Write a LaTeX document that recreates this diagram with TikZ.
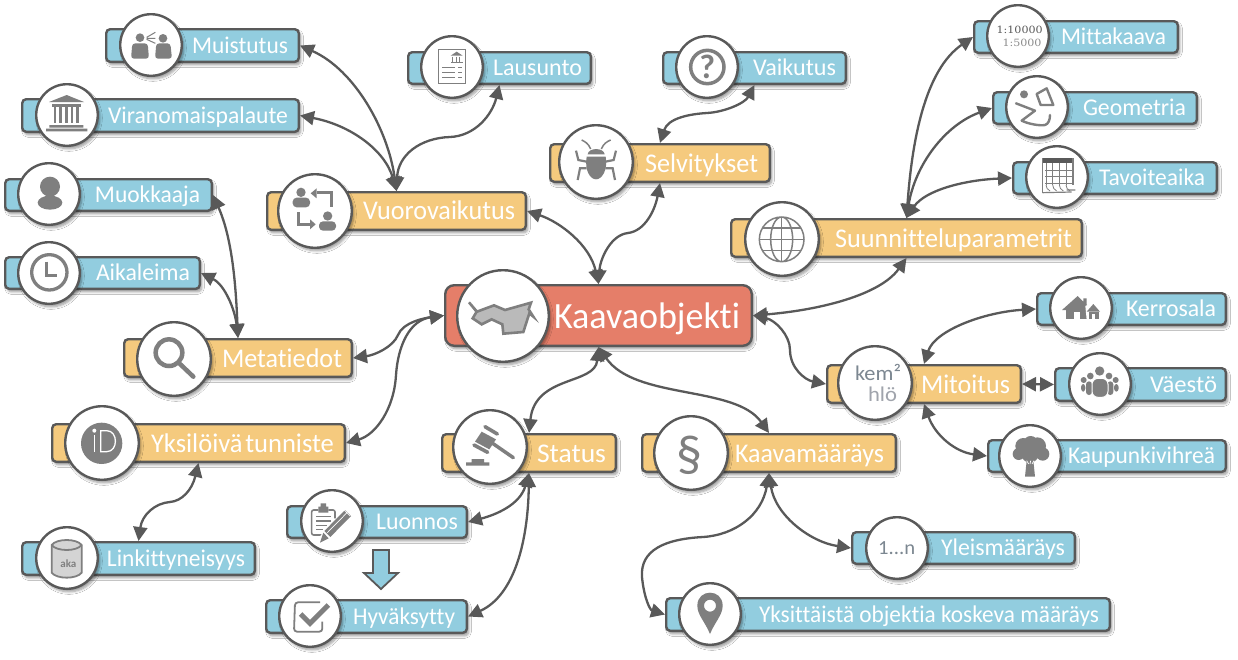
\documentclass[tikz,border=0pt]{standalone}
\usepackage{graphicx}
\usepackage{fontspec}
\setmainfont[Ligatures=NoCommon]{Carlito}
\newfontfamily\serifnum{DejaVu Serif}
\usetikzlibrary{arrows.meta,calc,shadows,shadows.blur}
\definecolor{ln}{HTML}{595959}
\definecolor{bluef}{HTML}{92CDDF}
\definecolor{orangef}{HTML}{F5CA7E}
\definecolor{redf}{HTML}{E57E69}
\definecolor{icong}{HTML}{7F7F7F}
\definecolor{kemc}{HTML}{7C8791}
\definecolor{hloc}{HTML}{A0A4AC}
\tikzset{
  softshadow/.style={blur shadow={shadow xshift=2pt,shadow yshift=-3pt,shadow blur steps=6,shadow blur radius=2.5pt,shadow opacity=40}},
  barbase/.style={draw=ln,line width=2.4pt,rounded corners=4pt,inner sep=0pt,softshadow},
  bluebar/.style={barbase,fill=bluef},
  orangebar/.style={barbase,fill=orangef},
  redbar/.style={barbase,fill=redf,rounded corners=9pt},
  circ/.style={circle,draw=ln,line width=2.4pt,fill=white,inner sep=0pt,softshadow},
  lab/.style={text=white,inner sep=0pt,outer sep=0pt},
  conn/.style={draw=ln,line width=2.3pt,{Triangle[length=14pt,width=14pt]}-{Triangle[length=14pt,width=14pt]}},
  zm/.style 2 args={shift={(#1,#2)},x=0.33333pt,y=-0.33333pt},
  ic/.style={fill=icong,draw=none},
  icl/.style={draw=icong,fill=none,line width=#1},
  ictext/.style={text=icong,inner sep=0pt,outer sep=0pt}
}
\newcommand{\mybox}[6]{\node[#1,minimum width={#5-#3-2.4},minimum height={#6-#4-2.4}] (#2) at ({(#3+#5)/2},{(#4+#6)/2}) {};}
\newcommand{\mycirc}[4]{\node[circ,minimum size={2*#4-2.4}] (#1) at (#2,#3) {};}
\newcommand{\mylab}[6]{\pgfmathsetlengthmacro{\labw}{#3-#2}\node[lab,anchor=base,font=\fontsize{#5}{#5}\selectfont] (#1) at ({(#2+#3)/2},#4) {\resizebox{\labw}{\height}{#6}};}
\begin{document}
\begin{tikzpicture}[x=1pt,y=-1pt]
\useasboundingbox (0,0) rectangle (1238,659);
\fill[white] (0,0) rectangle (1238,659);
% ---------- bars ----------
\mybox{bluebar}{muistutus}{105}{28}{300}{63}
\mybox{bluebar}{viranomainen}{21}{98}{300}{133}
\mybox{bluebar}{muokkaaja}{4}{178}{213}{212}
\mybox{bluebar}{aikaleima}{4}{256}{201}{290}
\mybox{orangebar}{vuoro}{266}{191}{527}{231}
\mybox{bluebar}{lausunto}{407}{51}{592}{85}
\mybox{bluebar}{vaikutus}{662}{51}{847}{85}
\mybox{orangebar}{selvitykset}{549}{143}{771}{183}
\mybox{redbar}{kaava}{444}{284}{753}{347}
\mybox{orangebar}{suunnittelu}{730}{218}{1083}{258}
\mybox{bluebar}{mittakaava}{973}{20}{1179}{54}
\mybox{bluebar}{geometria}{992}{91}{1198}{125}
\mybox{bluebar}{tavoiteaika}{1012}{161}{1218}{195}
\mybox{bluebar}{kerrosala}{1036}{292}{1227}{326}
\mybox{orangebar}{mitoitus}{826}{364}{1022}{404}
\mybox{bluebar}{vaesto}{1054}{367}{1227}{402}
\mybox{bluebar}{kaupunki}{987}{439}{1227}{473}
\mybox{orangebar}{kaavam}{641}{433}{897}{473}
\mybox{bluebar}{yleis}{851}{531}{1076}{565}
\mybox{bluebar}{yksittainen}{665}{597}{1111}{632}
\mybox{orangebar}{status}{441}{433}{617}{473}
\mybox{bluebar}{luonnos}{286}{505}{468}{539}
\mybox{bluebar}{hyvaksytty}{265}{599}{468}{634}
\mybox{orangebar}{metatiedot}{123}{338}{353}{378}
\mybox{orangebar}{tunniste}{51}{423}{346}{463}
\mybox{bluebar}{linkitys}{21}{541}{256}{576}
% ---------- connectors ----------
\draw[conn] (vuoro.north) .. controls (388,130) and (355,70) .. (muistutus.east);
\draw[conn] (vuoro.north) .. controls (385,150) and (350,125) .. (viranomainen.east);
\draw[conn] (vuoro.north) .. controls (398,155) and (420,138) .. (450,137) .. controls (475,136) and (492,115) .. (lausunto.south);
\draw[conn] (kaava.north) .. controls (590,245) and (560,222) .. (vuoro.east);
\draw[conn] (kaava.north) .. controls (600,260) and (610,235) .. (628,233) .. controls (645,231) and (655,210) .. (selvitykset.south);
\draw[conn] (selvitykset.north) .. controls (668,118) and (690,114) .. (707,113) .. controls (725,112) and (745,103) .. (vaikutus.south);
\draw[conn] (suunnittelu.north) .. controls (912,140) and (925,70) .. (mittakaava.west);
\draw[conn] (suunnittelu.north) .. controls (915,165) and (945,125) .. (geometria.west);
\draw[conn] (suunnittelu.north) .. controls (925,190) and (965,180) .. (tavoiteaika.west);
\draw[conn] (kaava.east) .. controls (820,310) and (880,295) .. (suunnittelu.south);
\draw[conn] (kaava.east) .. controls (775,320) and (790,335) .. (790,350) .. controls (790,368) and (805,380) .. (mitoitus.west);
\draw[conn] (mitoitus.north) .. controls (935,330) and (985,312) .. (kerrosala.west);
\draw[conn] (mitoitus.east) -- (vaesto.west);
\draw[conn] (mitoitus.south) .. controls (935,435) and (955,452) .. (kaupunki.west);
\draw[conn] (kaava.south) .. controls (635,400) and (735,385) .. (kaavam.north);
\draw[conn] (kaava.south) .. controls (595,385) and (535,375) .. (status.north);
\draw[conn] (kaava.west) .. controls (425,318) and (403,322) .. (398,335) .. controls (393,347) and (375,355) .. (metatiedot.east);
\draw[conn] (kaava.west) .. controls (410,320) and (398,345) .. (396,375) .. controls (394,410) and (375,435) .. (tunniste.east);
\draw[conn] (tunniste.south) .. controls (192,490) and (182,501) .. (170,502) .. controls (155,503) and (142,515) .. (linkitys.north);
\draw[conn] (metatiedot.north) .. controls (236,290) and (233,240) .. (muokkaaja.east);
\draw[conn] (metatiedot.north) .. controls (235,310) and (225,285) .. (aikaleima.east);
\draw[conn] (status.south) .. controls (520,505) and (495,515) .. (luonnos.east);
\draw[conn] (status.south) .. controls (528,540) and (515,595) .. (hyvaksytty.east);
\draw[conn] (kaavam.south) .. controls (775,515) and (810,542) .. (yleis.west);
\draw[conn] (kaavam.south) .. controls (762,515) and (735,535) .. (703,537) .. controls (665,539) and (640,550) .. (642,577) .. controls (644,598) and (650,610) .. (yksittainen.west);
% ---------- circles ----------
\mycirc{c-muistutus}{151}{45}{32}
\mycirc{c-viranomainen}{67}{115}{32}
\mycirc{c-muokkaaja}{49}{194}{32}
\mycirc{c-aikaleima}{49}{273}{32}
\mycirc{c-vuoro}{315}{211}{38}
\mycirc{c-lausunto}{452}{67}{32}
\mycirc{c-vaikutus}{707}{67}{32}
\mycirc{c-selvitykset}{596}{162}{38}
\mycirc{c-kaava}{503}{316}{47}
\mycirc{c-suunnittelu}{782}{239}{38}
\mycirc{c-mittakaava}{1018}{36}{32}
\mycirc{c-geometria}{1037}{107}{32}
\mycirc{c-tavoiteaika}{1057}{177}{32}
\mycirc{c-kerrosala}{1081}{308}{32}
\mycirc{c-mitoitus}{875}{383}{38}
\mycirc{c-vaesto}{1100}{384}{32}
\mycirc{c-kaupunki}{1030}{456}{32}
\mycirc{c-kaavam}{691}{453}{38}
\mycirc{c-yleis}{897}{548}{32}
\mycirc{c-yksittainen}{710}{614}{32}
\mycirc{c-status}{490}{447}{38}
\mycirc{c-luonnos}{332}{521}{32}
\mycirc{c-hyvaksytty}{310}{616}{32}
\mycirc{c-metatiedot}{174}{359}{38}
\mycirc{c-tunniste}{102}{443}{38}
\mycirc{c-linkitys}{67}{558}{32}
% ---------- labels ----------
\mylab{t-muistutus}{192}{288}{53}{24}{Muistutus}
\mylab{t-viranomainen}{108}{288}{123}{24}{Viranomaispalaute}
\mylab{t-muokkaaja}{95}{200}{202.5}{24}{Muokkaaja}
\mylab{t-aikaleima}{96}{190}{280.5}{24}{Aikaleima}
\mylab{t-vuoro}{363}{515}{219}{27}{Vuorovaikutus}
\mylab{t-lausunto}{493}{582}{75.5}{24}{Lausunto}
\mylab{t-vaikutus}{753}{836}{75.5}{24}{Vaikutus}
\mylab{t-selvitykset}{645}{758}{172}{27}{Selvitykset}
\mylab{t-kaava}{554}{740}{328}{37}{Kaavaobjekti}
\mylab{t-suunnittelu}{835}{1072}{247}{27}{Suunnitteluparametrit}
\mylab{t-mittakaava}{1061}{1166}{44.5}{24}{Mittakaava}
\mylab{t-geometria}{1083}{1186}{115.5}{24}{Geometria}
\mylab{t-tavoiteaika}{1099}{1205}{185.5}{24}{Tavoiteaika}
\mylab{t-kerrosala}{1126}{1216}{316.5}{24}{Kerrosala}
\mylab{t-mitoitus}{921}{1010}{393}{27}{Mitoitus}
\mylab{t-vaesto}{1150}{1217}{392}{24}{Väestö}
\mylab{t-kaupunki}{1068}{1215}{463.5}{24}{Kaupunkivihreä}
\mylab{t-kaavam}{735}{884}{462}{27}{Kaavamääräys}
\mylab{t-yleis}{941}{1065}{555.5}{24}{Yleismääräys}
\mylab{t-yksittainen}{759}{1099}{622}{24}{Yksittäistä objektia koskeva määräys}
\mylab{t-status}{537}{606}{462}{27}{Status}
\mylab{t-luonnos}{376}{458}{529.5}{24}{Luonnos}
\mylab{t-hyvaksytty}{353}{455}{624}{24}{Hyväksytty}
\mylab{t-metatiedot}{222}{342}{367}{27}{Metatiedot}
\mylab{t-tunniste}{151}{334}{452}{27}{Yksilöivä\hspace{0.1em}tunniste}
\mylab{t-linkitys}{107}{245}{566}{24}{Linkittyneisyys}
% Mitoitus icon text
\node[inner sep=0pt,anchor=base,text=kemc,font=\fontsize{21}{21}\selectfont] (m-1) at (878,380) {\resizebox{46pt}{\height}{kem²}};
\node[inner sep=0pt,anchor=base,text=hloc,font=\fontsize{21}{21}\selectfont] (m-2) at (882.5,401) {\resizebox{29pt}{\height}{hlö}};
% ---------- icons ----------
\begin{scope}[zm={0}{0}]
 % Muistutus
 \fill[ic] (420,113) circle (13) (489,115) circle (13);
 \fill[ic,rounded corners=3pt] (393,176)--(397,130)--(443,130)--(447,176)--cycle;
 \fill[ic,rounded corners=3pt] (465,176)--(469,130)--(511,130)--(516,176)--cycle;
 \draw[icl=1pt] (440,112)--(466,97) (440,115)--(466,115) (440,118)--(466,130);
 % Viranomaispalaute
 \fill[ic] (147,306)--(200,285)--(252,306)--cycle;
 \fill[ic] (155,312) rectangle (243,320);
 \foreach \cx in {165,182,199,216,233} {\fill[ic] (\cx-4,322) rectangle (\cx+4,368);}
 \fill[ic] (148,375) rectangle (250,383) (138,386) rectangle (262,394);
 % Muokkaaja
 \fill[ic] (150,560) circle (30);
 \fill[ic] (150,608) ellipse (37 and 21);
 % Aikaleima
 \draw[icl=3.3pt] (148,817) circle (53);
 \draw[icl=3pt] (140,785)--(140,825)--(172,825);
 % Vuorovaikutus
 \fill[ic] (903,577) circle (14) (983,648) circle (14);
 \fill[ic,rounded corners=4pt] (878,622)--(878,593)--(930,593)--(930,622)--cycle;
 \fill[ic,rounded corners=4pt] (957,692)--(957,664)--(1008,664)--(1008,692)--cycle;
 \draw[icl=3pt] (993,620)--(993,578)--(950,578);
 \fill[ic] (950,565)--(932,580)--(950,595)--cycle;
 \draw[icl=3pt] (895,637)--(895,672)--(930,672);
 \fill[ic] (930,658)--(947,673)--(930,688)--cycle;
\end{scope}
\begin{scope}[zm={400}{0}]
 % Lausunto
 \draw[icl=.8pt] (115,147) rectangle (196,250);
 \fill[ic] (152,167)--(170,155)--(188,167)--cycle;
 \fill[ic] (152,186) rectangle (188,190);
 \draw[icl=1pt] (158,170)--(158,185) (168,170)--(168,185) (178,170)--(178,185);
 \draw[icl=1pt] (127,203)--(165,203) (127,217)--(165,217) (127,231)--(165,231);
 \draw[icl=1pt] (175,203)--(186,203) (175,217)--(186,217) (175,231)--(186,231);
 % Vaikutus
 \draw[icl=3.5pt] (922,201) circle (50);
 \node[ictext,font=\fontsize{34}{34}\bfseries\selectfont] (q-vaikutus) at (922,201) {?};
 % Selvitykset
 \fill[ic] (560,470) .. controls (553,510) and (570,538) .. (588,538) .. controls (606,538) and (624,510) .. (617,470)--cycle;
 \fill[ic] (563,463) .. controls (565,442) and (612,442) .. (614,463)--cycle;
 \draw[icl=1.5pt] (572,447) .. controls (565,430) and (555,425) .. (545,420);
 \draw[icl=1.5pt] (604,447) .. controls (611,430) and (621,425) .. (632,420);
 \draw[icl=2.2pt] (528,452)--(535,480)--(560,485) (533,540)--(540,505)--(560,505);
 \draw[icl=2.2pt] (648,452)--(641,480)--(616,485) (645,540)--(638,505)--(616,505);
\end{scope}
\begin{scope}[zm={450}{270}]
 % Kaavaobjekti
 \draw[fill=black!27,draw=icong,line width=2.6pt,line join=miter] (57,97)--(81,125)--(132,106)--(165,120)--(243,98)--(236,118)--(250,140)--(238,130)--(220,186)--(160,191)--(157,163)--(125,148)--(95,163)--(68,145)--(80,125)--cycle;
\end{scope}
\begin{scope}[zm={720}{0}]
 % Suunnitteluparametrit
 \draw[icl=1.5pt] (185,718) circle (67) (185,718) ellipse (33 and 67);
 \draw[icl=1.5pt] (185,651)--(185,785) (118,718)--(252,718) (128,684)--(242,684) (128,752)--(242,752);
 % Mittakaava
 \node[inner sep=0pt,text=black!65,font=\serifnum\fontsize{10}{10}\selectfont] (n-1) at (899,90) {\resizebox{46pt}{\height}{1:10000}};
 \node[inner sep=0pt,text=black!45,font=\serifnum\fontsize{10}{10}\selectfont] (n-2) at (906,128) {\resizebox{39pt}{\height}{1:5000}};
 % Geometria
 \fill[ic] (912,283) circle (12);
 \draw[icl=2.4pt,line join=round] (950,282)--(980,265)--(1000,315)--(962,315)--cycle;
 \draw[icl=2.4pt,line join=round,line cap=round] (888,310)--(945,332)--(905,362) .. controls (925,372) and (960,378) .. (975,375) .. controls (985,372) and (990,360) .. (990,345);
\end{scope}
\begin{scope}[zm={1000}{130}]
 % Tavoiteaika
 \fill[black!65] (128,85) rectangle (219,100);
 \draw[icl=1.6pt] (128,85)--(128,190);
 \draw[icl=1.6pt] (219,85)--(219,165);
 \foreach \gx in {138,158,178,198} {\draw[icl=.8pt] (\gx,100)--(\gx,165);}
 \foreach \gy in {120,140,160} {\draw[icl=.8pt] (135,\gy)--(219,\gy);}
 \foreach \gx in {138,158,178,198} {\draw[icl=.8pt] (\gx,165) .. controls (\gx,172) and (\gx+5,180) .. (\gx+12,183);}
 \draw[icl=1.2pt] (128,188)--(215,186) (200,180)--(226,180);
\end{scope}
\begin{scope}[zm={740}{270}]
 % Kerrosala
 \fill[ic] (966,120)--(1013,78)--(1030,95)--(1030,85)--(1040,85)--(1040,104)--(1058,120)--cycle;
 \fill[ic] (977,120) rectangle (1046,148);
 \fill[white] (1003,127) rectangle (1020,148);
 \fill[white] (1036,108)--(1062,95)--(1085,125)--(1085,150)--(1040,150)--cycle;
 \fill[ic] (1040,125)--(1060,102)--(1080,125)--cycle;
 \fill[ic] (1046,125) rectangle (1076,148);
 \fill[white] (1055,133) rectangle (1065,148);
 % Väestö
 \fill[ic] (1031,330) circle (9) (1127,330) circle (9) (1051,318) circle (10) (1107,318) circle (10) (1079,303) circle (14);
 \fill[ic,rounded corners=3pt] (1023,365)--(1023,342)--(1036,342)--(1036,365)--cycle;
 \fill[ic,rounded corners=3pt] (1122,365)--(1122,342)--(1136,342)--(1136,365)--cycle;
 \fill[ic,rounded corners=3pt] (1038,375)--(1038,334)--(1056,334)--(1056,375)--cycle;
 \fill[ic,rounded corners=3pt] (1102,375)--(1102,334)--(1120,334)--(1120,375)--cycle;
 \draw[white,line width=1pt,fill=icong,rounded corners=6pt] (1056,382)--(1056,325)--(1104,325)--(1104,382)--cycle;
 % Kaupunkivihreä
 \fill[ic] (850,528) circle (24) (892,528) circle (26) (836,552) circle (18) (908,552) circle (20) (872,520) circle (22) (870,552) circle (26);
 \fill[ic] (860,572)--(855,620)--(885,620)--(880,572)--cycle;
 \draw[white,line width=.7pt] (860,572)--(866,582) (872,572)--(870,582) (882,572)--(876,582);
\end{scope}
\begin{scope}[zm={620}{420}]
 % Kaavamääräys
 \node[ictext,font=\fontsize{52}{52}\selectfont] (s-kaavam) at (207,105) {§};
 % Yleismääräys
 \node[inner sep=0pt,text=kemc,font=\fontsize{20}{20}\selectfont] (n-yleis) at (830,383) {\resizebox{37pt}{\height}{1...n}};
 % Pin
 \fill[ic,even odd rule] (270,642) .. controls (255,605) and (232,585) .. (232,557) .. controls (232,505) and (308,505) .. (308,557) .. controls (308,585) and (285,605) .. (270,642)--cycle (270,557) circle (18);
\end{scope}
\begin{scope}[zm={260}{390}]
 % Gavel
 \draw[icl=3.5pt,line cap=round] (695,158)--(760,203);
 \fill[ic] (665,125)--(708,148)--(688,178)--(645,155)--cycle;
 \draw[icl=3.6pt,line cap=round] (675,110)--(712,132) (642,165)--(683,187);
 \fill[ic] (635,207) rectangle (672,217) (618,217) rectangle (688,227);
 % Clipboard
 \draw[icl=1.6pt,rounded corners=2pt] (205,360)--(225,360)--(225,385) (190,435)--(155,435)--(155,360)--(175,360);
 \fill[ic] (175,350) rectangle (205,368) (182,340) rectangle (198,352);
 \draw[icl=1.6pt] (168,380)--(212,380) (168,393)--(212,393) (168,406)--(200,406) (168,419)--(188,419);
 \draw[white,line width=8pt] (190,445)--(265,368);
 \fill[ic] (193,423)--(255,360)--(273,378)--(211,441)--cycle;
 \fill[ic] (190,428)--(206,445)--(180,458)--cycle;
 \draw[white,line width=.7pt] (202,428)--(262,367) (250,358)--(270,378);
 % Check
 \draw[icl=1.8pt,rounded corners=3pt] (180,637)--(105,637)--(102,725)--(187,725)--(187,695);
 \draw[draw=white,line width=7.5pt] (122,672)--(150,700)--(205,645);
 \draw[icl=5pt] (122,672)--(150,700)--(205,645);
\end{scope}
\begin{scope}[zm={0}{310}]
 % Metatiedot
 \draw[icl=4.5pt] (507,128) circle (40);
 \draw[icl=4.5pt,line cap=round] (538,160)--(580,200);
 % ID
 \fill[ic] (305,400) circle (62);
 \fill[white] (283,362) circle (6);
 \draw[white,line width=1.3pt] (283,375)--(283,425);
 \draw[white,line width=1.3pt] (302,362)--(302,425)--(320,425) .. controls (355,425) and (355,362) .. (320,362)--cycle;
 % Cylinder
 \draw[draw=icong,fill=black!17,line width=1.8pt] (155,705)--(155,788) .. controls (170,808) and (230,808) .. (245,788)--(245,705) .. controls (230,685) and (170,685) .. (155,705)--cycle;
 \draw[icl=1.8pt] (155,705) .. controls (170,725) and (230,725) .. (245,705);
 \node[ictext,font=\fontsize{11}{11}\bfseries\selectfont] (a-aka) at (205,761) {aka};
\end{scope}
% arrow Luonnos to Hyväksytty
\fill[bluef,draw=ln,line width=1.8pt,line join=miter] (373,550)--(389,550)--(389,573)--(398,573)--(381,589)--(364,573)--(373,573)--cycle;
\end{tikzpicture}
\end{document}
